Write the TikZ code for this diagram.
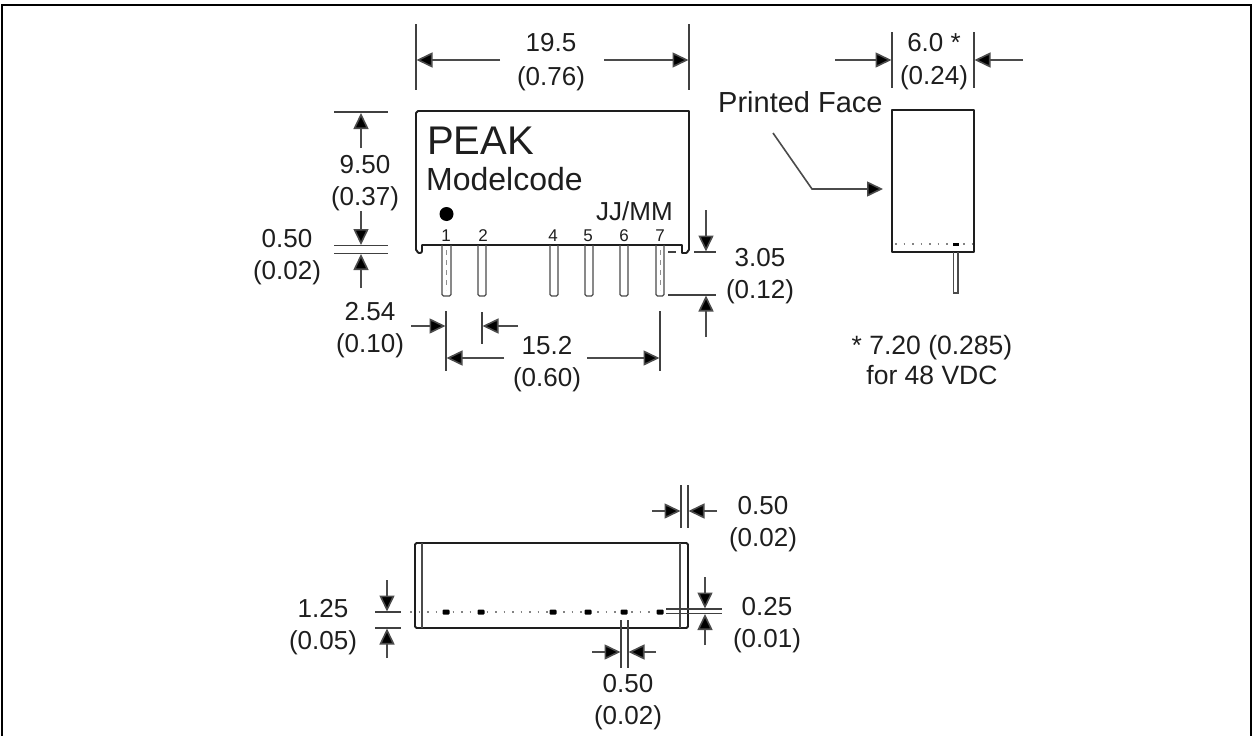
\documentclass[tikz,border=0pt]{standalone}
\usepackage{fontspec}
\setmainfont{Liberation Sans}
\usetikzlibrary{arrows.meta}
\definecolor{ink}{HTML}{1E1E1E}
\tikzset{
  dimtext/.style={text=ink,align=center,inner sep=0pt,font=\fontsize{26}{32}\selectfont},
  pinno/.style={text=ink,inner sep=0pt,font=\fontsize{17}{17}\selectfont},
  outline/.style={draw=ink,line width=1.9pt,line join=round},
  thin part/.style={draw=ink!80,line width=1.4pt},
  extline/.style={draw=ink!85,line width=1.6pt},
  dimarrow/.style={draw=ink!80,line width=1.6pt,-{Triangle[length=16pt,width=15pt,fill=black]}},
  dotline/.style={draw=ink!55,line width=1.2pt,dash pattern=on 1.5pt off 7pt},
  smallpin/.style={fill=black,draw=none,minimum width=7pt,minimum height=5pt,inner sep=0pt,rounded corners=1pt},
}
\begin{document}
\begin{tikzpicture}[x=1pt,y=-1pt]
\useasboundingbox (0,0) rectangle (1254,736);
\fill[white] (0,0) rectangle (1254,736);
% frame
\coordinate (fa) at (2,736); \coordinate (fb) at (2,5); \coordinate (fc) at (1251,5); \coordinate (fd) at (1251,736);
\draw[black,line width=2.6pt] (fa) -- (fb) -- (fc) -- (fd);

% ---------- front view ----------
\draw[outline] (422,245) -- (422,251) to[out=-90,in=0] (420,253) -- (419,253) to[out=180,in=90] (416,250) -- (416,113) to[out=-90,in=180] (418,111) -- (689,111) -- (689,250) to[out=90,in=0] (686,253) -- (682,253) -- (682,245) -- cycle;
\foreach \nm/\a/\b in {one/442/451,two/478/486,four/550/558,five/585/593,six/620/628,seven/656/664}{
  \draw[thin part,rounded corners=1.5pt] (\a,245) -- (\a,296) -- (\b,296) -- (\b,245);
}
\draw[ink!50,line width=.8pt,dash pattern=on 5pt off 5pt] (446.5,250) -- (446.5,290);
\draw[ink!50,line width=.8pt,dash pattern=on 5pt off 5pt] (660,250) -- (660,290);
\fill[black] (446.5,214) circle (7);
\node[inner sep=0pt,anchor=base west,text=ink,font=\fontsize{40}{40}\selectfont] (peak) at (427,154) {PEAK};
\node[inner sep=0pt,anchor=base west,text=ink,font=\fontsize{32}{30}\selectfont] (model) at (426,190) {Modelcode};
\node[inner sep=0pt,anchor=base west,text=ink,font=\fontsize{26}{26}\selectfont] (date) at (596,220) {JJ/MM};
\node[pinno] (p1) at (446,236) {1};
\node[pinno] (p2) at (483,236) {2};
\node[pinno] (p4) at (553,236) {4};
\node[pinno] (p5) at (588,236) {5};
\node[pinno] (p6) at (624,236) {6};
\node[pinno] (p7) at (660,236) {7};

% 19.5
\draw[extline] (416,24) -- (416,90);
\draw[extline] (689,24) -- (689,90);
\draw[dimarrow] (500,60) -- (416.5,60);
\draw[dimarrow] (604,60) -- (688.5,60);
\node[dimtext] (d195) at (551,62.5) {19.5\\[2pt](0.76)};

% 9.50 / 0.50
\draw[extline] (334,112) -- (388,112);
\draw[extline] (334,245.5) -- (388,245.5);
\draw[extline] (334,253.5) -- (388,253.5);
\draw[dimarrow] (361,148) -- (361,113);
\draw[dimarrow] (361,211) -- (361,245);
\draw[dimarrow] (361,288) -- (361,254);
\node[dimtext] (d950) at (365,183) {9.50\\(0.37)};
\node[dimtext] (d050a) at (287,257) {0.50\\(0.02)};

% 2.54
\draw[extline] (446,311) -- (446,371);
\draw[extline] (482,312) -- (482,344);
\draw[dimarrow] (411,326) -- (445.5,326);
\draw[dimarrow] (518,326) -- (482.5,326);
\node[dimtext] (d254) at (370,330) {2.54\\(0.10)};

% 15.2
\draw[extline] (660,311) -- (660,371);
\draw[dimarrow] (504,358) -- (446.5,358);
\draw[dimarrow] (587,358) -- (659.5,358);
\node[dimtext] (d152) at (547,364.5) {15.2\\(0.60)};

% 3.05
\draw[extline] (694,252) -- (716,252);
\draw[extline] (668,252) -- (676,252);
\draw[extline] (668,295) -- (716,295);
\draw[dimarrow] (706,210) -- (706,251.5);
\draw[dimarrow] (706,337) -- (706,295.5);
\node[dimtext] (d305) at (760,276) {3.05\\(0.12)};

% ---------- side view ----------
\draw[outline] (892,110) rectangle (974,252);
\draw[dotline] (895,244) -- (973,244);
\draw[thin part,line width=1.6pt] (953.5,252) -- (953.5,293) -- (958,293) -- (958,252);
\fill[black] (952.5,243) rectangle (958.5,246);
\draw[extline] (892,32) -- (892,88);
\draw[extline] (974,32) -- (974,88);
\draw[dimarrow] (835,60) -- (891.5,60);
\draw[dimarrow] (1023,60) -- (974.5,60);
\node[dimtext] (d60) at (934,62) {6.0 *\\[1pt](0.24)};
\node[inner sep=0pt,anchor=base west,text=ink,font=\fontsize{29}{29}\selectfont] (face) at (718,112) {Printed Face};
\coordinate (leadstart) at (773,133);
\coordinate (leadknee) at (812,189);
\coordinate (leadend) at (883,189);
\draw[dimarrow] (leadstart) -- (leadknee) -- (leadend);
\node[dimtext,font=\fontsize{26.5}{32}\selectfont] (note) at (932,360) {* 7.20 (0.285)\\[-2pt]for 48 VDC};

% ---------- bottom view ----------
\draw[outline,rounded corners=1.5pt] (415,543) rectangle (688,628);
\draw[thin part] (422,543) -- (422,628);
\draw[thin part] (680,543) -- (680,628);
\draw[dotline] (410,612) -- (665,612);
\foreach \nm/\x in {a/446,b/481,c/553,d/588,e/624,f/660}{
  \node[smallpin] (bot\nm) at (\x,612) {};
}
% 1.25
\draw[extline] (375,612) -- (401,612);
\draw[extline] (375,628) -- (401,628);
\draw[dimarrow] (387,580) -- (387,611.5);
\draw[dimarrow] (387,658) -- (387,628.5);
\node[dimtext] (d125) at (323,627) {1.25\\(0.05)};

% 0.50 top
\draw[extline] (681,485) -- (681,528);
\draw[extline] (688,485) -- (688,528);
\draw[dimarrow] (652,511) -- (680.5,511);
\draw[dimarrow] (717,511) -- (688.5,511);
\node[dimtext] (d050b) at (763,524) {0.50\\(0.02)};

% 0.25
\draw[extline] (666,609) -- (722,609);
\draw[extline] (666,613.5) -- (722,613.5);
\draw[dimarrow] (705,577) -- (705,608.5);
\draw[dimarrow] (705,645) -- (705,614);
\node[dimtext] (d025) at (767,625) {0.25\\(0.01)};

% 0.50 bottom
\draw[extline] (621,620) -- (621,668);
\draw[extline] (628,620) -- (628,668);
\draw[dimarrow] (592,652) -- (620.5,652);
\draw[dimarrow] (656,652) -- (628.5,652);
\node[dimtext] (d050c) at (628,702.5) {0.50\\(0.02)};
\end{tikzpicture}
\end{document}
